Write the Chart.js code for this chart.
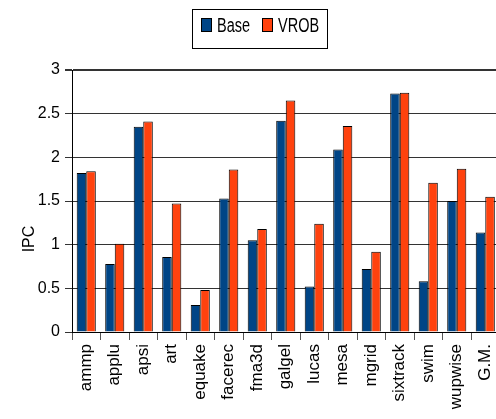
<!DOCTYPE html>
<html>
<head>
<meta charset="utf-8">
<script src="https://cdn.jsdelivr.net/npm/chart.js@4"></script>
<style>
  html, body { margin: 0; padding: 0; background: #fff; }
  #clip { width: 496px; height: 419px; overflow: hidden; position: relative; }
  #wrap { width: 510px; height: 419px; position: absolute; left: 0; top: 0; }
</style>
</head>
<body>
<div id="clip"><div id="wrap"><canvas id="ipcChart"></canvas></div></div>
<script>
const benchmarks = ["ammp", "applu", "apsi", "art", "equake", "facerec", "fma3d", "galgel",
  "lucas", "mesa", "mgrid", "sixtrack", "swim", "wupwise", "G.M."];
const baseIPC = [1.82, 0.78, 2.35, 0.86, 0.31, 1.53, 1.05, 2.42, 0.52, 2.09, 0.72, 2.73, 0.58, 1.50, 1.14];
const vrobIPC = [1.84, 1.01, 2.41, 1.47, 0.48, 1.86, 1.18, 2.65, 1.24, 2.36, 0.92, 2.74, 1.71, 1.87, 1.55];
const seriesNames = ["Base", "VROB"];
const seriesColors = ["#004586", "#ff420e"];
const yTitle = "IPC";

const FONT = "'Liberation Sans', Arial, sans-serif";

// boxed legend + axis title, placed like the original
const boxLegend = {
  id: "boxLegend",
  afterDraw(chart) {
    const ctx = chart.ctx;
    ctx.save();
    ctx.strokeStyle = "#000";
    ctx.lineWidth = 1;
    ctx.strokeRect(192.5, 9.5, 135, 39);
    const items = [
      { x: 201, tx: 217 },
      { x: 262, tx: 278 }
    ];
    chart.data.datasets.forEach((ds, i) => {
      const it = items[i];
      ctx.fillStyle = ds.backgroundColor;
      ctx.fillRect(it.x, 18, 11, 14);
      ctx.strokeRect(it.x + 0.5, 18.5, 10, 13);
      ctx.save();
      ctx.translate(it.tx, 26);
      ctx.scale(1, 1.35);
      ctx.fillStyle = "#000";
      ctx.font = "14.5px " + FONT;
      ctx.textBaseline = "middle";
      ctx.fillText(ds.label, 0, 0.5);
      ctx.restore();
    });

    // y axis title
    ctx.save();
    ctx.translate(30, 239);
    ctx.rotate(-Math.PI / 2);
    ctx.fillStyle = "#000";
    ctx.font = "16px " + FONT;
    ctx.textAlign = "center";
    ctx.textBaseline = "middle";
    ctx.fillText(yTitle, 0, 0);
    ctx.restore();
    ctx.restore();
  }
};

new Chart(document.getElementById("ipcChart").getContext("2d"), {
  type: "bar",
  data: {
    labels: benchmarks,
    datasets: [
      {
        label: seriesNames[0],
        data: baseIPC,
        backgroundColor: seriesColors[0],
        borderColor: "#000",
        borderWidth: 1,
        categoryPercentage: 0.67,
        barPercentage: 1.0
      },
      {
        label: seriesNames[1],
        data: vrobIPC,
        backgroundColor: seriesColors[1],
        borderColor: "#000",
        borderWidth: 1,
        categoryPercentage: 0.67,
        barPercentage: 1.0
      }
    ]
  },
  options: {
    responsive: true,
    maintainAspectRatio: false,
    animation: false,
    layout: { padding: { top: 70, right: 10, left: 0, bottom: 0 } },
    plugins: {
      legend: { display: false },
      tooltip: { enabled: false }
    },
    scales: {
      x: {
        grid: {
          offset: true,
          drawOnChartArea: false,
          drawTicks: true,
          tickLength: 8,
          color: "#555"
        },
        border: { display: true, color: "#000" },
        ticks: {
          autoSkip: false,
          minRotation: 90,
          maxRotation: 90,
          padding: 4,
          color: "#000",
          font: { family: FONT, size: 17 }
        },
        afterFit(scale) { scale.height = 87; }
      },
      y: {
        min: 0,
        max: 3,
        ticks: {
          stepSize: 0.5,
          padding: 5,
          color: "#000",
          font: { family: FONT, size: 16 },
          callback: (v) => String(Number(v.toFixed(1)))
        },
        grid: {
          color: "#333",
          lineWidth: (c) => (c.tick && c.tick.value === 3 ? 2 : 1),
          tickLength: 7
        },
        border: { display: true, color: "#000" },
        afterFit(scale) { scale.width = 72; }
      }
    }
  },
  plugins: [boxLegend]
});
</script>
</body>
</html>
